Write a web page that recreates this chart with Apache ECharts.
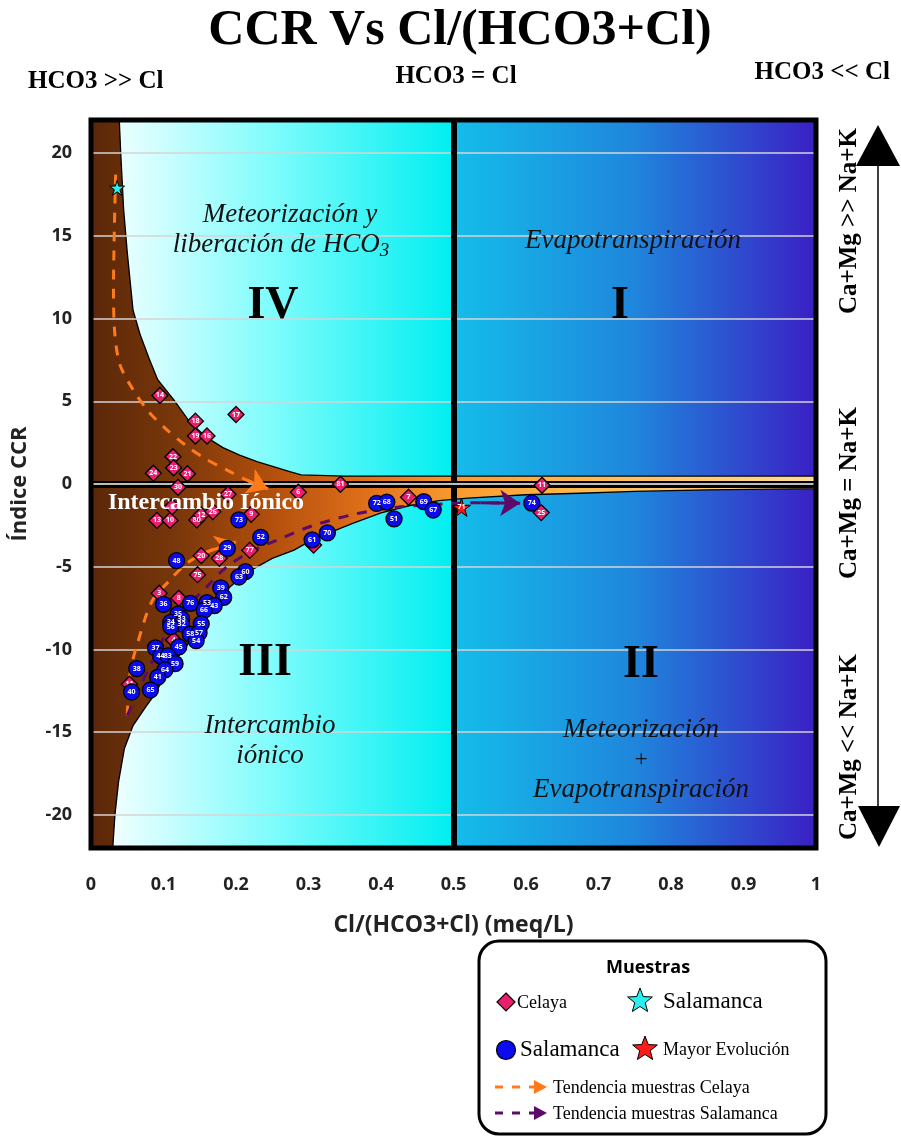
<!DOCTYPE html>
<html><head><meta charset="utf-8">
<script src="https://cdn.jsdelivr.net/npm/echarts@6/dist/echarts.min.js"></script>
<style>html,body{margin:0;padding:0;background:#fff}#c{width:901px;height:1137px}</style>
</head><body><div id="c"></div>
<script>
// ---------------- DATA ----------------
const xTicks = [0, 0.1, 0.2, 0.3, 0.4, 0.5, 0.6, 0.7, 0.8, 0.9, 1];
const yTicks = [-20, -15, -10, -5, 0, 5, 10, 15, 20];
const yMin = -22, yMax = 22;

const celayaIds = ['14','17','18','19','16','22','23','24','21','30','27','13','10','80','12','26','5','9','6','81','7','11','25','79','20','28','77','75','3','8','4','11'];
const celayaX = [0.095,0.200,0.144,0.144,0.160,0.113,0.114,0.086,0.133,0.120,0.189,0.091,0.109,0.146,0.152,0.168,0.112,0.221,0.286,0.344,0.438,0.622,0.621,0.307,0.152,0.177,0.219,0.147,0.094,0.121,0.114,0.053];
const celayaY = [5.35,4.2,3.8,2.9,2.9,1.65,0.98,0.65,0.62,-0.2,-0.62,-2.2,-2.2,-2.17,-1.87,-1.67,-1.37,-1.83,-0.5,-0.02,-0.8,-0.08,-1.73,-3.69,-4.33,-4.49,-4.01,-5.48,-6.6,-6.91,-9.43,-12.1];

const salIds = ['73','72','68','69','67','51','74','70','61','52','29','48','60','63','39','62','36','76','53','43','66','35','33','34','32','56','55','58','57','54','37','45','44','83','59','38','64','41','40','65'];
const salX = [0.204,0.394,0.408,0.459,0.472,0.418,0.608,0.326,0.305,0.234,0.188,0.118,0.213,0.204,0.179,0.183,0.100,0.137,0.160,0.170,0.156,0.120,0.125,0.110,0.125,0.110,0.152,0.137,0.149,0.145,0.089,0.121,0.096,0.106,0.116,0.063,0.102,0.092,0.056,0.082];
const salY = [-2.17,-1.17,-1.09,-1.07,-1.57,-2.11,-1.15,-2.96,-3.38,-3.22,-3.89,-4.63,-5.3,-5.62,-6.28,-6.85,-7.27,-7.21,-7.17,-7.35,-7.63,-7.87,-8.16,-8.36,-8.46,-8.62,-8.46,-9.08,-9.0,-9.47,-9.91,-9.85,-10.39,-10.39,-10.86,-11.16,-11.24,-11.68,-12.57,-12.45];

const salStarX = [0.036], salStarY = [17.9], salStarIds = [''];
const mayorX = [0.511], mayorY = [-1.41], mayorIds = ['71'];

// zone boundaries (hyperbola-like envelope)
const upperX = [0.039,0.041,0.045,0.050,0.058,0.068,0.080,0.092,0.114,0.137,0.160,0.182,0.205,0.229,0.255,0.274,0.290,0.350,1.0];
const upperY = [22,20,16.6,14,10.5,9.0,7.6,6.3,5.1,3.7,2.8,2.2,1.75,1.35,1.0,0.75,0.55,0.48,0.48];
const lowerX = [0.030,0.033,0.038,0.046,0.058,0.075,0.090,0.104,0.132,0.150,0.182,0.213,0.250,0.280,0.306,0.326,0.360,0.400,0.440,0.480,0.520,0.600,0.674,0.750,0.850,1.0];
const lowerY = [-22,-20,-18,-16,-14.6,-13.5,-12.6,-11.3,-9.8,-8.3,-6.6,-5.4,-4.5,-4.0,-3.35,-3.0,-2.4,-1.75,-1.3,-1.0,-0.85,-0.65,-0.56,-0.45,-0.35,-0.28];

// trend lines
const celTrendAX = [0.034,0.032,0.031,0.033,0.040,0.058,0.079,0.104,0.130,0.157,0.187,0.215,0.244];
const celTrendAY = [18.7,15,11.5,9,7.2,5.7,4.4,3.3,2.36,1.55,0.85,0.24,-0.3];
const celTrendBX = [0.050,0.054,0.063,0.084,0.109,0.132,0.160,0.200];
const celTrendBY = [-14.0,-11.4,-9.8,-7.1,-5.8,-4.8,-4.1,-3.5];
const salTrendX = [0.050,0.058,0.068,0.086,0.109,0.137,0.160,0.182,0.215,0.256,0.307,0.366,0.422,0.490,0.537,0.592];
const salTrendY = [-14.0,-13.2,-12.2,-10.6,-8.6,-7.2,-6.2,-5.2,-4.2,-3.4,-2.5,-1.8,-1.4,-1.2,-1.13,-1.17];

// ---------------- BUILD ----------------
const zip = (xs, ys) => xs.map((x, i) => [x, ys[i]]);
const pts = (ids, xs, ys) => ids.map((n, i) => ({ name: n, value: [xs[i], ys[i]] }));
const starPath = 'path://M50,0 L61,35 L98,35 L68,57 L79,91 L50,70 L21,91 L32,57 L2,35 L39,35 Z';
const SERIF = '"Liberation Serif","Times New Roman",serif';
const SANS = '"Open Sans","Liberation Sans",sans-serif';
const G = echarts.graphic;

function starPts(cx, cy, R, r) {
  const a = [];
  for (let i = 0; i < 10; i++) {
    const ang = -Math.PI / 2 + i * Math.PI / 5;
    const rad = i % 2 === 0 ? R : r;
    a.push([cx + rad * Math.cos(ang), cy + rad * Math.sin(ang)]);
  }
  return a;
}

const chart = echarts.init(document.getElementById('c'), null, { renderer: 'canvas' });

const ptLabel = { show: true, position: 'inside', formatter: '{b}', color: '#fff', fontSize: 7, fontWeight: 'bold', fontFamily: SANS };

const option = {
  animation: false,
  backgroundColor: '#fff',
  grid: { left: 91, right: 85, top: 120, bottom: 289, show: false, containLabel: false, outerBoundsMode: 'none' },
  xAxis: {
    type: 'value', min: 0, max: 1, interval: 0.1,
    name: 'Cl/(HCO3+Cl) (meq/L)', nameLocation: 'middle', nameGap: 66,
    nameTextStyle: { fontFamily: SANS, fontWeight: 'bold', fontSize: 23, color: '#222' },
    axisLine: { show: false },
    axisTick: { show: true, length: 5, lineStyle: { color: '#000', width: 1 } },
    splitLine: { show: false },
    axisLabel: { margin: 28, fontFamily: SANS, fontWeight: 'bold', fontSize: 18, color: '#222',
      formatter: v => String(Math.round(v * 10) / 10) }
  },
  yAxis: {
    type: 'value', min: yMin, max: yMax,
    name: 'Índice CCR', nameLocation: 'middle', nameGap: 60, nameRotate: 90,
    nameTextStyle: { fontFamily: SANS, fontWeight: 'bold', fontSize: 22, color: '#222' },
    axisLine: { show: false },
    axisTick: { show: false },
    splitLine: { show: false },
    axisLabel: { customValues: yTicks, margin: 19, fontFamily: SANS, fontWeight: 'bold', fontSize: 18, color: '#222' }
  },
  series: [
    { // background gradients
      type: 'custom', z: 1, silent: true, data: [[0, 0]],
      renderItem: function (params, api) {
        const a = api.coord([0, yMax]), m = api.coord([0.5, yMin]), b = api.coord([1, yMin]);
        return { type: 'group', children: [
          { type: 'rect', shape: { x: a[0], y: a[1], width: m[0] - a[0], height: m[1] - a[1] },
            style: { fill: new G.LinearGradient(0, 0, 1, 0, [{ offset: 0, color: '#ffffff' }, { offset: 0.5, color: '#7ffcfc' }, { offset: 1, color: '#00eef0' }]) } },
          { type: 'rect', shape: { x: m[0], y: a[1], width: b[0] - m[0], height: m[1] - a[1] },
            style: { fill: new G.LinearGradient(0, 0, 1, 0, [{ offset: 0, color: '#14bdea' }, { offset: 0.5, color: '#1f86dc' }, { offset: 1, color: '#3a1fc4' }]) } }
        ] };
      }
    },
    { // brown/orange ionic exchange envelope
      type: 'custom', z: 2, silent: true, data: [[0, 0]],
      renderItem: function (params, api) {
        const poly = [[0, yMax]].concat(zip(upperX, upperY))
          .concat(zip(lowerX, lowerY).reverse()).concat([[0, yMin]]);
        const p = poly.map(d => api.coord(d));
        return { type: 'polygon', shape: { points: p },
          style: { fill: new G.LinearGradient(0, 0, 1, 0, [
            { offset: 0, color: '#5a2709' }, { offset: 0.12, color: '#7a370a' }, { offset: 0.25, color: '#b34f0c' },
            { offset: 0.38, color: '#e0701a' }, { offset: 0.5, color: '#f79a30' }, { offset: 0.65, color: '#ffb548' },
            { offset: 1, color: '#ffdc9a' }]), stroke: '#000', lineWidth: 1.3 } };
      }
    },
    { // gridlines
      type: 'line', z: 3, silent: true, data: [],
      markLine: { silent: true, symbol: 'none', label: { show: false },
        lineStyle: { color: '#d4d4d4', width: 1.5, type: 'solid' },
        data: yTicks.filter(v => v !== 0).map(v => ({ yAxis: v })) }
    },
    {
      type: 'line', z: 4, silent: true, data: [],
      markLine: { silent: true, symbol: 'none', label: { show: false },
        data: [
          { yAxis: 0, lineStyle: { color: '#000', width: 7, type: 'solid' } },
          { xAxis: 0.5, lineStyle: { color: '#000', width: 6, type: 'solid' } }
        ] }
    },
    {
      type: 'line', z: 4, silent: true, data: [],
      markLine: { silent: true, symbol: 'none', label: { show: false }, z: 5,
        data: [{ yAxis: 0, lineStyle: { color: '#bdbdbd', width: 2, type: 'solid' } }] }
    },
    // trend lines
    { type: 'line', z: 5, silent: true, data: zip(celTrendAX, celTrendAY), showSymbol: false, smooth: 0.3,
      lineStyle: { color: '#ff7a1a', width: 3, type: [10, 9] } },
    { type: 'line', z: 5, silent: true, data: zip(celTrendBX, celTrendBY), showSymbol: false, smooth: 0.3,
      lineStyle: { color: '#ff7a1a', width: 3, type: [10, 9] } },
    { type: 'line', z: 5, silent: true, data: zip(salTrendX, salTrendY), showSymbol: false, smooth: 0.3,
      lineStyle: { color: '#5e0a6a', width: 3, type: [10, 9] } },
    { type: 'lines', coordinateSystem: 'cartesian2d', z: 5, silent: true,
      symbol: ['none', 'arrow'], symbolSize: 20,
      lineStyle: { width: 3, opacity: 1 },
      data: [
        { coords: zip(celTrendAX, celTrendAY).slice(-2), lineStyle: { color: '#ff7a1a' } },
        { coords: zip(celTrendBX, celTrendBY).slice(-2), lineStyle: { color: '#ff7a1a' } },
        { coords: zip(salTrendX, salTrendY).slice(-2), lineStyle: { color: '#5e0a6a' } }
      ] },
    // samples
    { name: 'Celaya', type: 'scatter', z: 6, symbol: 'diamond', symbolSize: 16,
      itemStyle: { color: '#ec1d6c', borderColor: '#000', borderWidth: 1.3, opacity: 1 },
      label: ptLabel, data: pts(celayaIds, celayaX, celayaY) },
    { name: 'Salamanca', type: 'scatter', z: 7, symbol: 'circle', symbolSize: 16,
      itemStyle: { color: '#0b0bf0', borderColor: '#000', borderWidth: 1.3, opacity: 1 },
      label: ptLabel, data: pts(salIds, salX, salY) },
    { name: 'Salamanca*', type: 'scatter', z: 8, symbol: starPath, symbolSize: 15,
      itemStyle: { color: '#29f0f0', borderColor: '#000', borderWidth: 1, opacity: 1 },
      data: pts(salStarIds, salStarX, salStarY) },
    { name: 'Mayor Evolución', type: 'scatter', z: 8, symbol: starPath, symbolSize: 18,
      itemStyle: { color: '#ff1a1a', borderColor: '#000', borderWidth: 1, opacity: 1 },
      label: ptLabel, data: pts(mayorIds, mayorX, mayorY) }
  ],
  graphic: [
    // plot frame
    { type: 'rect', z: 50, silent: true, shape: { x: 91, y: 120, width: 725, height: 728 },
      style: { fill: 'none', stroke: '#000', lineWidth: 5 } },
    // title & top notes
    { type: 'text', z: 60, x: 460, y: 31, style: { text: 'CCR Vs Cl/(HCO3+Cl)', font: 'bold 50px ' + SERIF, fill: '#000', align: 'center', verticalAlign: 'middle' } },
    { type: 'text', z: 60, x: 28, y: 82, style: { text: 'HCO3 >> Cl', font: 'bold 25px ' + SERIF, fill: '#000', align: 'left', verticalAlign: 'middle' } },
    { type: 'text', z: 60, x: 456, y: 77, style: { text: 'HCO3 = Cl', font: 'bold 25px ' + SERIF, fill: '#000', align: 'center', verticalAlign: 'middle' } },
    { type: 'text', z: 60, x: 890, y: 73, style: { text: 'HCO3 << Cl', font: 'bold 25px ' + SERIF, fill: '#000', align: 'right', verticalAlign: 'middle' } },
    // zone texts
    { type: 'text', z: 60, x: 290, y: 215, style: { text: 'Meteorización y', font: 'italic 27px ' + SERIF, fill: '#111', align: 'center', verticalAlign: 'middle' } },
    { type: 'text', z: 60, x: 281, y: 245, style: { text: 'liberación de HCO{s|3}', font: 'italic 27px ' + SERIF, fill: '#111', align: 'center', verticalAlign: 'middle',
        rich: { s: { font: 'italic 19px ' + SERIF, fill: '#111', verticalAlign: 'bottom', padding: [11, 0, 0, 0] } } } },
    { type: 'text', z: 60, x: 633, y: 241, style: { text: 'Evapotranspiración', font: 'italic 27px ' + SERIF, fill: '#111', align: 'center', verticalAlign: 'middle' } },
    { type: 'text', z: 60, x: 273, y: 306, style: { text: 'IV', font: 'bold 46px ' + SERIF, fill: '#000', align: 'center', verticalAlign: 'middle' } },
    { type: 'text', z: 60, x: 620, y: 306, style: { text: 'I', font: 'bold 46px ' + SERIF, fill: '#000', align: 'center', verticalAlign: 'middle' } },
    { type: 'text', z: 60, x: 265, y: 663, style: { text: 'III', font: 'bold 46px ' + SERIF, fill: '#000', align: 'center', verticalAlign: 'middle' } },
    { type: 'text', z: 60, x: 641, y: 665, style: { text: 'II', font: 'bold 46px ' + SERIF, fill: '#000', align: 'center', verticalAlign: 'middle' } },
    { type: 'text', z: 60, x: 270, y: 726, style: { text: 'Intercambio', font: 'italic 27px ' + SERIF, fill: '#111', align: 'center', verticalAlign: 'middle' } },
    { type: 'text', z: 60, x: 270, y: 756, style: { text: 'iónico', font: 'italic 27px ' + SERIF, fill: '#111', align: 'center', verticalAlign: 'middle' } },
    { type: 'text', z: 60, x: 641, y: 730, style: { text: 'Meteorización', font: 'italic 27px ' + SERIF, fill: '#111', align: 'center', verticalAlign: 'middle' } },
    { type: 'text', z: 60, x: 641, y: 760, style: { text: '+', font: 'italic 23px ' + SERIF, fill: '#111', align: 'center', verticalAlign: 'middle' } },
    { type: 'text', z: 60, x: 641, y: 790, style: { text: 'Evapotranspiración', font: 'italic 27px ' + SERIF, fill: '#111', align: 'center', verticalAlign: 'middle' } },
    { type: 'text', z: 60, x: 206, y: 503, style: { text: 'Intercambio Iónico', font: 'bold 24px ' + SERIF, fill: '#fff', align: 'center', verticalAlign: 'middle' } },
    // right side scale
    { type: 'line', z: 60, shape: { x1: 878, y1: 160, x2: 878, y2: 810 }, style: { stroke: '#000', lineWidth: 1.5 } },
    { type: 'polygon', z: 60, shape: { points: [[878, 125], [856, 166], [900, 166]] }, style: { fill: '#000' } },
    { type: 'polygon', z: 60, shape: { points: [[879, 847], [858, 806], [900, 806]] }, style: { fill: '#000' } },
    { type: 'text', z: 60, x: 850, y: 221, rotation: Math.PI / 2, style: { text: 'Ca+Mg >> Na+K', font: 'bold 25px ' + SERIF, fill: '#000', align: 'center', verticalAlign: 'middle' } },
    { type: 'text', z: 60, x: 850, y: 493, rotation: Math.PI / 2, style: { text: 'Ca+Mg = Na+K', font: 'bold 25px ' + SERIF, fill: '#000', align: 'center', verticalAlign: 'middle' } },
    { type: 'text', z: 60, x: 850, y: 747, rotation: Math.PI / 2, style: { text: 'Ca+Mg << Na+K', font: 'bold 25px ' + SERIF, fill: '#000', align: 'center', verticalAlign: 'middle' } },
    // legend box
    { type: 'rect', z: 60, shape: { x: 479, y: 941, width: 347, height: 193, r: 20 }, style: { fill: '#fff', stroke: '#000', lineWidth: 3 } },
    { type: 'text', z: 61, x: 648, y: 968, style: { text: 'Muestras', font: 'bold 18px ' + SANS, fill: '#000', align: 'center', verticalAlign: 'middle' } },
    { type: 'polygon', z: 61, shape: { points: [[506, 993], [515, 1002], [506, 1011], [497, 1002]] }, style: { fill: '#ec1d6c', stroke: '#000', lineWidth: 1.2 } },
    { type: 'text', z: 61, x: 517, y: 1003, style: { text: 'Celaya', font: '18px ' + SERIF, fill: '#000', align: 'left', verticalAlign: 'middle' } },
    { type: 'polygon', z: 61, shape: { points: starPts(640, 1001, 13, 5.5) }, style: { fill: '#29f0f0', stroke: '#000', lineWidth: 1 } },
    { type: 'text', z: 61, x: 663, y: 1002, style: { text: 'Salamanca', font: '23px ' + SERIF, fill: '#000', align: 'left', verticalAlign: 'middle' } },
    { type: 'circle', z: 61, shape: { cx: 506, cy: 1050, r: 9.5 }, style: { fill: '#0b0bf0', stroke: '#000', lineWidth: 1.2 } },
    { type: 'text', z: 61, x: 520, y: 1050, style: { text: 'Salamanca', font: '23px ' + SERIF, fill: '#000', align: 'left', verticalAlign: 'middle' } },
    { type: 'polygon', z: 61, shape: { points: starPts(645, 1049, 13, 5.5) }, style: { fill: '#ff1a1a', stroke: '#000', lineWidth: 1 } },
    { type: 'text', z: 61, x: 663, y: 1050, style: { text: 'Mayor Evolución', font: '18px ' + SERIF, fill: '#000', align: 'left', verticalAlign: 'middle' } },
    { type: 'line', z: 61, shape: { x1: 495, y1: 1087, x2: 537, y2: 1087 }, style: { stroke: '#ff7a1a', lineWidth: 3, lineDash: [8, 9] } },
    { type: 'polygon', z: 61, shape: { points: [[534, 1080], [547, 1087], [534, 1094]] }, style: { fill: '#ff7a1a' } },
    { type: 'text', z: 61, x: 553, y: 1088, style: { text: 'Tendencia muestras Celaya', font: '18px ' + SERIF, fill: '#000', align: 'left', verticalAlign: 'middle' } },
    { type: 'line', z: 61, shape: { x1: 495, y1: 1113, x2: 537, y2: 1113 }, style: { stroke: '#5e0a6a', lineWidth: 3, lineDash: [8, 9] } },
    { type: 'polygon', z: 61, shape: { points: [[534, 1106], [547, 1113], [534, 1120]] }, style: { fill: '#5e0a6a' } },
    { type: 'text', z: 61, x: 553, y: 1114, style: { text: 'Tendencia muestras Salamanca', font: '18px ' + SERIF, fill: '#000', align: 'left', verticalAlign: 'middle' } }
  ]
};
chart.setOption(option);
</script>
</body></html>
